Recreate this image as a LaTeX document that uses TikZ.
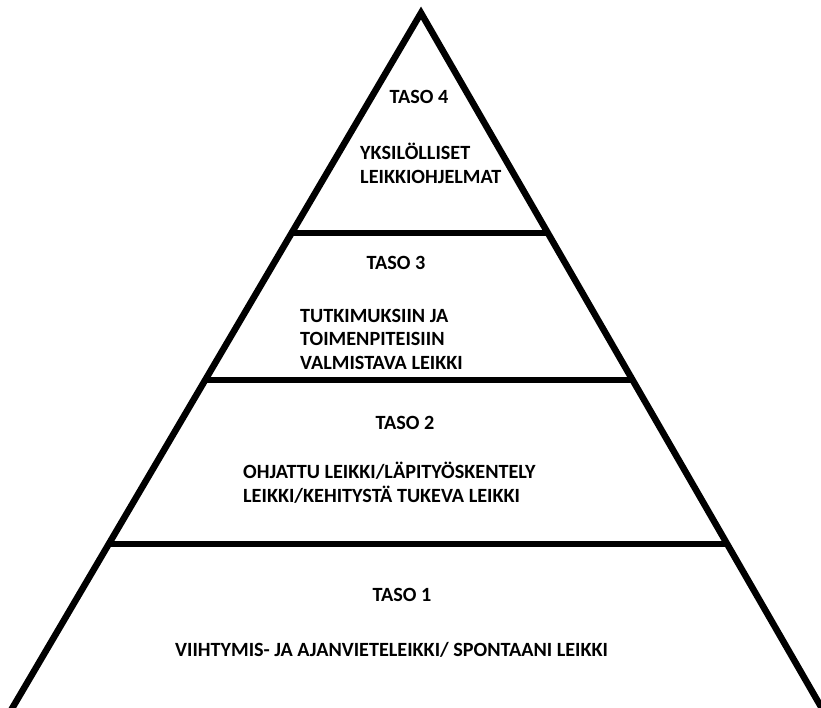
\documentclass[tikz,border=0pt]{standalone}
\usepackage{fontspec}
\setmainfont{Carlito}
\usetikzlibrary{calc}
\begin{document}
\begin{tikzpicture}[x=1pt,y=-1pt,
  edge/.style={line width=6.5pt,line join=miter,line cap=butt},
  level/.style={font=\fontsize{20.2}{23.5}\selectfont\bfseries,inner sep=0pt},
  block/.style={level,align=left,anchor=west}]
\useasboundingbox (0,0) rectangle (821,708);
\clip (0,0) rectangle (821,708);
\coordinate (A) at (421,13);
\coordinate (BL) at (10,712);
\coordinate (BR) at (824,712);
\draw[edge] (BL) -- (A) -- (BR);
\coordinate (l1) at ($(A)!0.3147!(BL)$);
\coordinate (r1) at ($(A)!0.3147!(BR)$);
\coordinate (l2) at ($(A)!0.525!(BL)$);
\coordinate (r2) at ($(A)!0.525!(BR)$);
\coordinate (l3) at ($(A)!0.7597!(BL)$);
\coordinate (r3) at ($(A)!0.7597!(BR)$);
\draw[edge] (l1) -- (r1);
\draw[edge] (l2) -- (r2);
\draw[edge] (l3) -- (r3);
\node[level] (t4) at (419,97) {TASO 4};
\node[block] (b4) at (360,163.5) {YKSILÖLLISET\\LEIKKIOHJELMAT};
\node[level] (t3) at (396,263) {TASO 3};
\node[block] (b3) at (300,339) {TUTKIMUKSIIN JA\\TOIMENPITEISIIN\\VALMISTAVA LEIKKI};
\node[level] (t2) at (405,423) {TASO 2};
\node[block] (b2) at (243,482.5) {OHJATTU LEIKKI/LÄPITYÖSKENTELY\\LEIKKI/KEHITYSTÄ TUKEVA LEIKKI};
\node[level] (t1) at (402,595) {TASO 1};
\node[block] (b1) at (175,650) {VIIHTYMIS- JA AJANVIETELEIKKI/ SPONTAANI LEIKKI};
\end{tikzpicture}
\end{document}
